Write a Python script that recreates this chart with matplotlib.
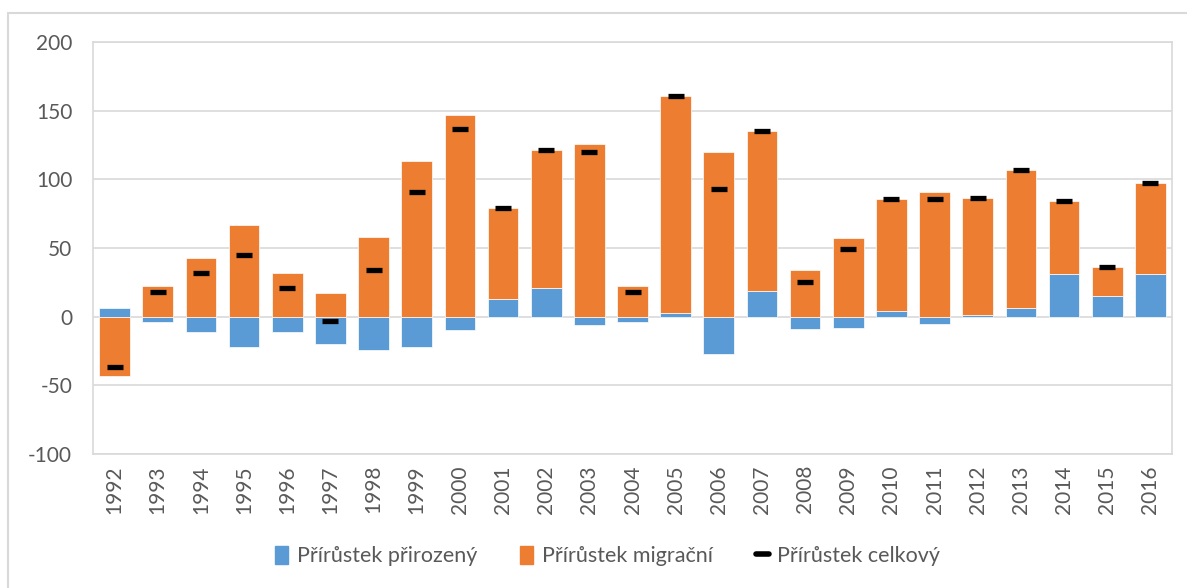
import matplotlib
matplotlib.use('Agg')
import matplotlib.pyplot as plt
from matplotlib.patches import Rectangle
from matplotlib.lines import Line2D
from matplotlib.patches import Patch

plt.rcParams['font.family'] = ['Lato', 'DejaVu Sans']
plt.rcParams['axes.unicode_minus'] = False

# data (thousands)
years = ['1992', '1993', '1994', '1995', '1996', '1997', '1998', '1999', '2000',
         '2001', '2002', '2003', '2004', '2005', '2006', '2007', '2008', '2009',
         '2010', '2011', '2012', '2013', '2014', '2015', '2016']
natural = [6, -4, -11, -22, -11, -20, -24, -22, -10, 13, 21, -6, -4, 3, -27, 19,
           -9, -8, 4, -5, 1, 6, 31, 15, 31]
migration = [-43, 22, 43, 67, 32, 17, 58, 113, 147, 66, 100, 126, 22, 158, 120, 116,
             34, 57, 82, 91, 85.5, 101, 53, 21, 66]
total = [-37, 18, 32, 45, 21, -3, 34, 91, 137, 79, 121, 120, 18, 161, 93, 135,
         25, 49, 86, 86, 86.5, 107, 84, 36, 97]

blue = '#5B9BD5'
orange = '#ED7D31'
grid_c = '#D9D9D9'
text_c = '#595959'

fig = plt.figure(figsize=(11.87, 5.88), dpi=100)
ax = fig.add_axes([93 / 1187, 134 / 588, 1079 / 1187, 412 / 588])

x = list(range(len(years)))
# Excel-style stacking: migration sits on natural only if both have the same sign
mig_bottom = [n if (n > 0) == (m > 0) else 0 for n, m in zip(natural, migration)]

ax.bar(x, natural, width=0.71, color=blue, edgecolor='white', linewidth=0.5, zorder=2)
ax.bar(x, migration, bottom=mig_bottom, width=0.71, color=orange,
       edgecolor='white', linewidth=0.5, zorder=2)
ax.plot(x, total, linestyle='none', marker='_', markersize=11, markeredgewidth=3.8,
        color='black', zorder=3)

ax.set_xlim(-0.5, len(years) - 0.5)
ax.set_ylim(-100, 200)
ax.set_yticks(range(-100, 201, 50))
ax.set_xticks(x)
ax.set_xticklabels(years, rotation=90)
ax.yaxis.grid(True, color=grid_c, linewidth=1.2, zorder=0)
ax.set_axisbelow(True)
ax.tick_params(axis='both', length=0, labelsize=15, colors=text_c)
ax.tick_params(axis='y', pad=15)
ax.tick_params(axis='x', pad=8)
for s in ax.spines.values():
    s.set_color(grid_c)
    s.set_linewidth(1.2)

# outer chart frame
fig.patches.append(Rectangle((8 / 1187, -0.1), 1.2, (588 - 13) / 588 + 0.1,
                             transform=fig.transFigure, fill=False,
                             edgecolor=grid_c, linewidth=1.5))

handles = [Patch(color=blue), Patch(color=orange),
           Line2D([], [], color='black', linewidth=4, solid_capstyle='round')]
labels = ['Přírůstek přirozený', 'Přírůstek migrační', 'Přírůstek celkový']
fig.legend(handles, labels, loc='center', bbox_to_anchor=(0.512, 0.054), ncol=3,
           frameon=False, fontsize=15.5, labelcolor=text_c, handlelength=0.6,
           handleheight=0.9, handletextpad=0.4, columnspacing=2.0)

fig.savefig('out.png', dpi=100)
